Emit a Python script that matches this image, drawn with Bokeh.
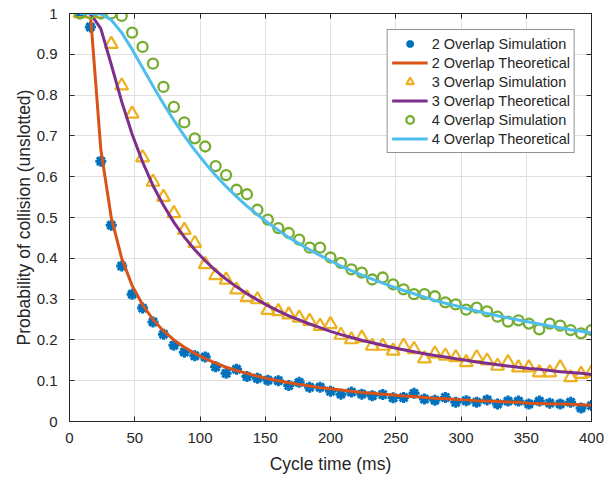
from bokeh.plotting import figure
from bokeh.models import LinearAxis, FixedTicker, Legend, LegendItem
from bokeh.embed import file_html
from bokeh.resources import INLINE

cycle_ms = [8, 16, 24, 32, 40, 48, 56, 64, 72, 80, 88, 96, 104, 112, 120, 128, 136, 144, 152, 160,
            168, 176, 184, 192, 200, 208, 216, 224, 232, 240, 248, 256, 264, 272, 280, 288, 296, 304, 312, 320,
            328, 336, 344, 352, 360, 368, 376, 384, 392, 400]

sim2 = [1.0, 0.967, 0.638, 0.481, 0.381, 0.312, 0.278, 0.244, 0.214, 0.187,
        0.170, 0.161, 0.158, 0.134, 0.118, 0.128, 0.110, 0.106, 0.101, 0.100,
        0.088, 0.096, 0.084, 0.084, 0.074, 0.067, 0.072, 0.067, 0.063, 0.066,
        0.058, 0.059, 0.069, 0.055, 0.052, 0.059, 0.047, 0.051, 0.047, 0.053,
        0.043, 0.050, 0.050, 0.043, 0.050, 0.045, 0.043, 0.047, 0.033, 0.039]

theo2 = [1.0, 1.0, 0.667, 0.5, 0.4, 0.333, 0.286, 0.25, 0.222, 0.2,
         0.182, 0.167, 0.154, 0.143, 0.133, 0.125, 0.118, 0.111, 0.105, 0.1,
         0.095, 0.091, 0.087, 0.083, 0.08, 0.077, 0.074, 0.071, 0.069, 0.067,
         0.065, 0.0625, 0.061, 0.059, 0.057, 0.056, 0.054, 0.053, 0.051, 0.05,
         0.049, 0.048, 0.047, 0.045, 0.044, 0.043, 0.043, 0.042, 0.041, 0.04]

sim3 = [1.0, 1.0, 1.0, 0.925, 0.823, 0.754, 0.647, 0.587, 0.550, 0.510,
        0.469, 0.437, 0.385, 0.358, 0.347, 0.323, 0.304, 0.299, 0.273, 0.270,
        0.262, 0.254, 0.246, 0.234, 0.238, 0.212, 0.201, 0.205, 0.185, 0.185,
        0.173, 0.185, 0.177, 0.154, 0.166, 0.161, 0.157, 0.145, 0.157, 0.149,
        0.136, 0.145, 0.132, 0.132, 0.120, 0.120, 0.132, 0.108, 0.116, 0.120]

theo3 = [1.0, 1.0, 0.963, 0.875, 0.784, 0.704, 0.636, 0.578, 0.530, 0.488,
         0.452, 0.421, 0.394, 0.370, 0.349, 0.330, 0.313, 0.298, 0.284, 0.271,
         0.259, 0.249, 0.239, 0.230, 0.221, 0.213, 0.206, 0.199, 0.193, 0.187,
         0.181, 0.176, 0.171, 0.166, 0.162, 0.158, 0.154, 0.150, 0.146, 0.143,
         0.139, 0.136, 0.133, 0.130, 0.128, 0.125, 0.122, 0.120, 0.118, 0.115]

sim4 = [1.0, 1.0, 1.0, 1.0, 0.994, 0.953, 0.918, 0.877, 0.820, 0.771,
        0.733, 0.694, 0.674, 0.626, 0.604, 0.568, 0.557, 0.519, 0.495, 0.474,
        0.462, 0.446, 0.426, 0.426, 0.402, 0.389, 0.373, 0.365, 0.348, 0.353,
        0.336, 0.324, 0.312, 0.312, 0.307, 0.292, 0.287, 0.274, 0.279, 0.270,
        0.257, 0.245, 0.248, 0.240, 0.226, 0.240, 0.235, 0.224, 0.216, 0.224]

theo4 = [1.0, 1.0, 0.999, 0.984, 0.953, 0.912, 0.867, 0.822, 0.779, 0.738,
         0.700, 0.665, 0.633, 0.603, 0.576, 0.551, 0.528, 0.507, 0.487, 0.469,
         0.451, 0.436, 0.421, 0.407, 0.394, 0.381, 0.370, 0.359, 0.349, 0.339,
         0.330, 0.321, 0.313, 0.305, 0.297, 0.290, 0.284, 0.277, 0.271, 0.265,
         0.259, 0.254, 0.249, 0.244, 0.239, 0.234, 0.230, 0.225, 0.221, 0.217]

x_ticks = [0, 50, 100, 150, 200, 250, 300, 350, 400]
y_ticks = [0, 0.1, 0.2, 0.3, 0.4, 0.5, 0.6, 0.7, 0.8, 0.9, 1]
y_tick_labels = {0: "0", 0.1: "0.1", 0.2: "0.2", 0.3: "0.3", 0.4: "0.4", 0.5: "0.5",
                 0.6: "0.6", 0.7: "0.7", 0.8: "0.8", 0.9: "0.9", 1: "1"}

FONT = "Liberation Sans"
AX = "#262626"

p = figure(width=612, height=476, output_backend="svg", toolbar_location=None,
           x_range=(0, 400), y_range=(0, 1),
           min_border_left=69, min_border_right=21, min_border_top=13, min_border_bottom=52,
           background_fill_color="white", border_fill_color="white")

p.outline_line_color = AX
p.outline_line_width = 1

for ax in p.xaxis:
    ax.ticker = FixedTicker(ticks=x_ticks)
    ax.axis_label = "Cycle time (ms)"
for ax in p.yaxis:
    ax.ticker = FixedTicker(ticks=y_ticks)
    ax.major_label_overrides = y_tick_labels
    ax.axis_label = "Probability of collision (unslotted)"

for ax in list(p.xaxis) + list(p.yaxis):
    ax.axis_line_color = AX
    ax.major_tick_line_color = AX
    ax.major_tick_in = 5
    ax.major_tick_out = 0
    ax.minor_tick_line_color = None
    ax.major_label_text_font = FONT
    ax.major_label_text_font_size = "15px"
    ax.major_label_text_color = AX
    ax.axis_label_text_font = FONT
    ax.axis_label_text_font_size = "17.5px"
    ax.axis_label_text_font_style = "normal"
    ax.axis_label_text_color = AX

p.xaxis.major_label_standoff = 11
p.xaxis.axis_label_standoff = 8
p.yaxis.major_label_standoff = 12
p.yaxis.axis_label_standoff = 0

# mirrored ticks on top/right (box on), without labels
top = LinearAxis(ticker=FixedTicker(ticks=x_ticks), major_label_text_color=None,
                 major_label_text_font_size="1px", major_label_standoff=0,
                 axis_line_color=AX, major_tick_line_color=AX,
                 major_tick_in=5, major_tick_out=0, minor_tick_line_color=None)
right = LinearAxis(ticker=FixedTicker(ticks=y_ticks), major_label_text_color=None,
                   major_label_text_font_size="1px", major_label_standoff=0,
                   axis_line_color=AX, major_tick_line_color=AX,
                   major_tick_in=5, major_tick_out=0, minor_tick_line_color=None)
p.add_layout(top, "above")
p.add_layout(right, "right")

p.xgrid.ticker = FixedTicker(ticks=x_ticks)
p.ygrid.ticker = FixedTicker(ticks=y_ticks)
p.grid.grid_line_color = "#dfdfdf"
p.grid.grid_line_width = 1

BLUE = "#0072BD"
ORANGE = "#D95319"
YELLOW = "#EDB120"
PURPLE = "#7E2F8E"
GREEN = "#77AC30"
CYAN = "#4DBEEE"

r_s2 = p.scatter(cycle_ms, sim2, marker="asterisk", size=11, line_color=BLUE, line_width=3)
r_t2 = p.line(cycle_ms, theo2, line_color=ORANGE, line_width=3, line_join="round")
r_s3 = p.scatter(cycle_ms, sim3, marker="triangle", size=13, line_color=YELLOW, fill_color=None, line_width=2.2)
r_t3 = p.line(cycle_ms, theo3, line_color=PURPLE, line_width=3, line_join="round")
r_s4 = p.scatter(cycle_ms, sim4, marker="circle", size=10, line_color=GREEN, fill_color=None, line_width=2.3)
r_t4 = p.line(cycle_ms, theo4, line_color=CYAN, line_width=3, line_join="round")

legend = Legend(items=[
    LegendItem(label="2 Overlap Simulation", renderers=[r_s2]),
    LegendItem(label="2 Overlap Theoretical", renderers=[r_t2]),
    LegendItem(label="3 Overlap Simulation", renderers=[r_s3]),
    LegendItem(label="3 Overlap Theoretical", renderers=[r_t3]),
    LegendItem(label="4 Overlap Simulation", renderers=[r_s4]),
    LegendItem(label="4 Overlap Theoretical", renderers=[r_t4]),
], location="top_right")
legend.margin = 16
legend.padding = 4
legend.spacing = 0
legend.glyph_width = 36
legend.glyph_height = 19
legend.label_height = 19
legend.label_standoff = 4
legend.label_text_font = FONT
legend.label_text_font_size = "14.5px"
legend.label_text_color = AX
legend.border_line_color = AX
legend.border_line_width = 1
legend.background_fill_color = "white"
legend.background_fill_alpha = 1
p.add_layout(legend, "center")

open("out.html", "w").write(file_html(p, INLINE))
